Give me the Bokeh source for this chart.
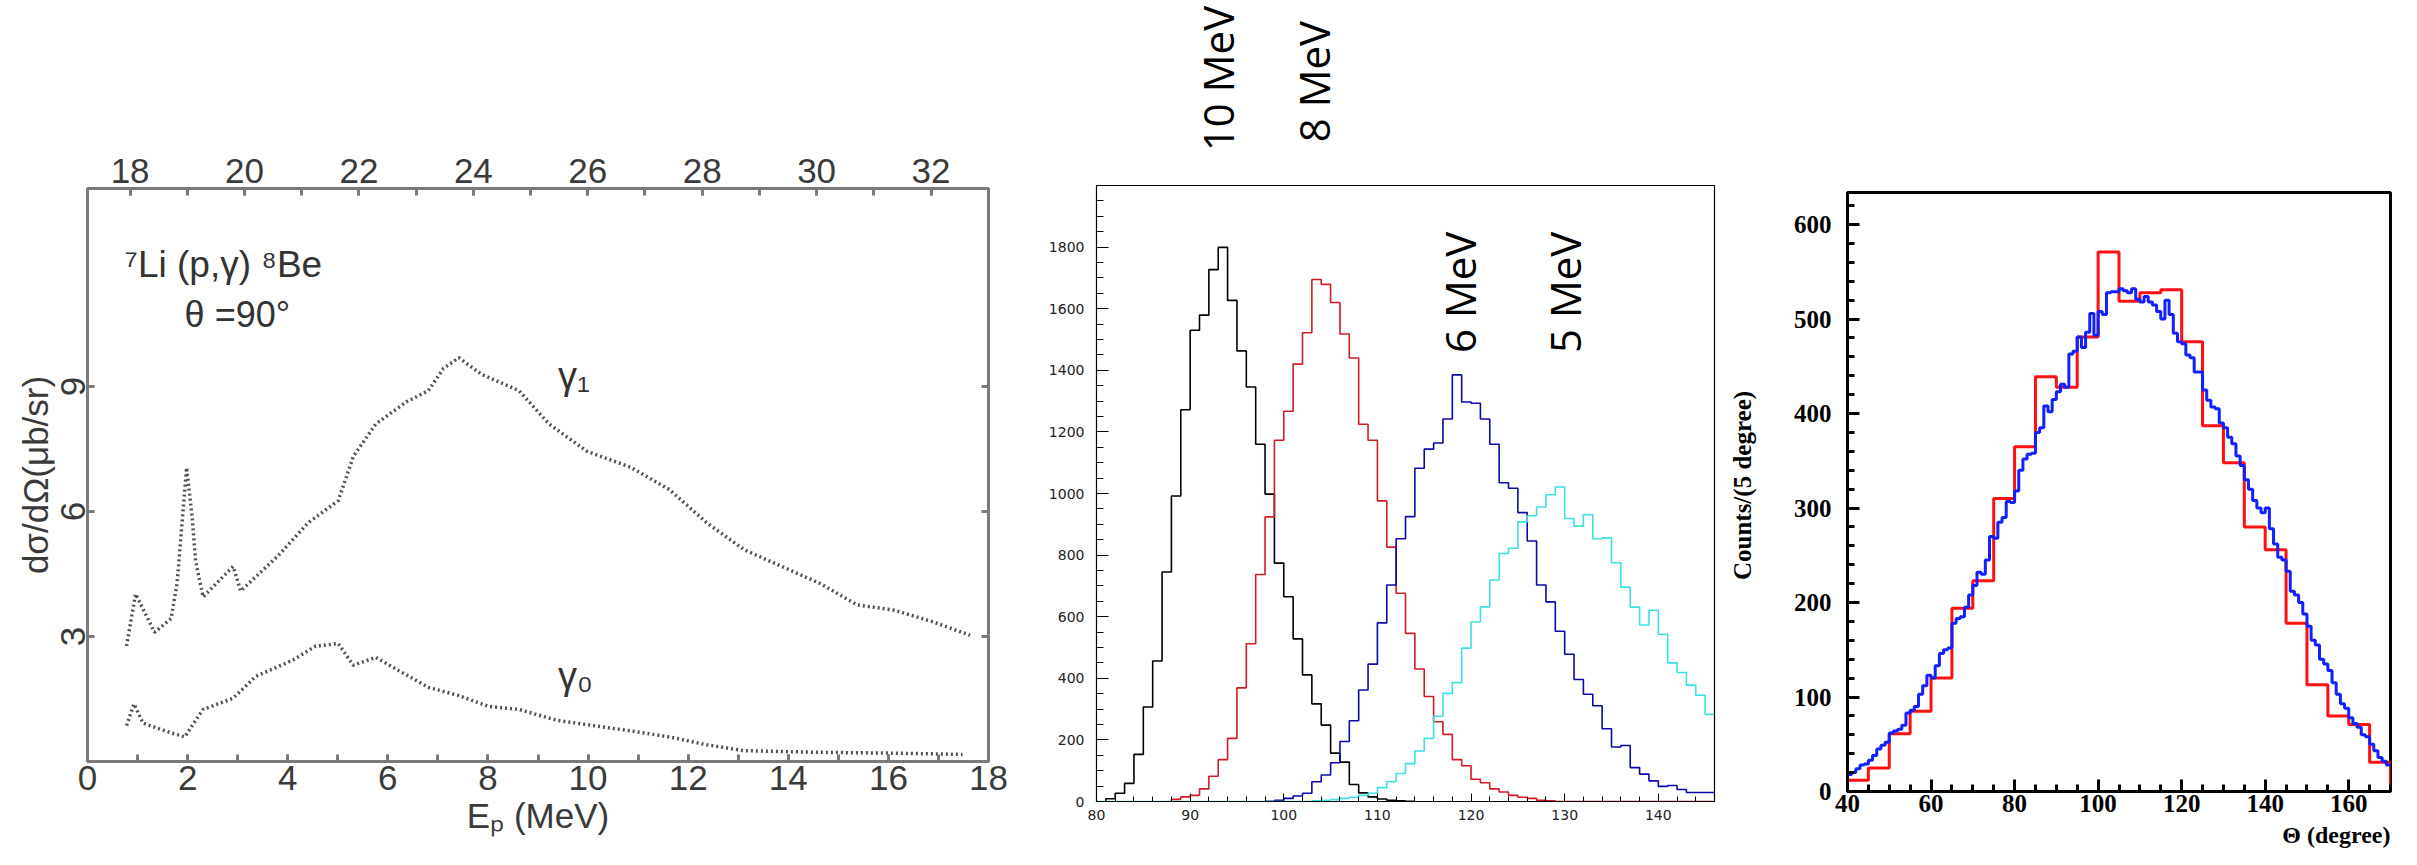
import math
from bokeh.plotting import figure
from bokeh.layouts import row, column
from bokeh.models import Range1d, LinearAxis, Label, FixedTicker
from bokeh.embed import file_html
from bokeh.resources import INLINE

# ---------------- Panel 1: 7Li(p,gamma)8Be ----------------
ep_g1 = [0.78, 0.96, 1.34, 1.67, 1.79, 1.98, 2.09, 2.16, 2.31, 2.91, 3.06, 3.81, 4.41, 5.01, 5.31,
         5.76, 6.37, 6.81, 7.11, 7.42, 7.87, 8.62, 9.22, 9.97, 10.87, 11.62, 12.37, 13.12, 13.87,
         14.62, 15.37, 16.12, 16.87, 17.63]
sig_g1 = [2.77, 4.02, 3.10, 3.43, 4.28, 7.05, 5.87, 4.81, 3.95, 4.68, 4.09, 4.94, 5.73, 6.26, 7.32,
          8.10, 8.63, 8.90, 9.43, 9.69, 9.29, 8.90, 8.10, 7.45, 7.05, 6.53, 5.73, 5.08, 4.68,
          4.28, 3.76, 3.63, 3.36, 3.03]
ep_g0 = [0.78, 0.93, 1.11, 1.56, 1.94, 2.31, 2.91, 3.36, 4.11, 4.56, 5.01, 5.31, 5.76, 6.22, 6.81,
         7.42, 8.02, 8.62, 9.37, 10.12, 10.87, 11.62, 12.37, 13.12, 14.62, 16.12, 17.48]
sig_g0 = [0.86, 1.38, 0.92, 0.73, 0.59, 1.25, 1.52, 2.04, 2.44, 2.77, 2.83, 2.31, 2.50, 2.18, 1.78,
          1.58, 1.32, 1.25, 0.99, 0.86, 0.73, 0.59, 0.40, 0.26, 0.22, 0.20, 0.17]
ep_ticks = [0, 2, 4, 6, 8, 10, 12, 14, 16, 18]
ex_ticks = [18, 20, 22, 24, 26, 28, 30, 32]
sig_ticks = [3, 6, 9]

# ---------------- Panel 2: histograms vs angle ----------------
mid_bin = 1
black_start = 81
black_counts = [9, 27, 59, 153, 307, 456, 745, 992, 1272, 1530, 1579, 1727, 1799, 1627, 1463, 1346,
                1160, 998, 774, 665, 528, 411, 317, 248, 157, 128, 55, 28, 15, 8, 4, 2, 1]
red_start = 88
red_counts = [7, 15, 20, 41, 82, 136, 205, 369, 512, 737, 924, 1173, 1267, 1420, 1522, 1695, 1679,
              1620, 1518, 1440, 1225, 1173, 976, 826, 676, 546, 430, 341, 259, 218, 136, 116, 72,
              61, 41, 31, 20, 14, 10, 4, 2, 0, 0, 0, 0, 0, 0, 0, 0, 0, 0, 0, 0, 0, 0, 0, 0, 0]
blue_start = 98
blue_counts = [1, 4, 10, 18, 27, 64, 86, 126, 195, 262, 362, 446, 580, 703, 853, 925, 1082, 1144,
               1164, 1242, 1385, 1297, 1293, 1242, 1160, 1035, 1017, 938, 846, 703, 648, 553, 478,
               396, 348, 311, 236, 177, 182, 110, 89, 67, 49, 52, 39, 29, 29, 29]
cyan_start = 80
cyan_counts = [0] * 23 + [2, 4, 6, 10, 14, 20, 27, 45, 64, 91, 123, 164, 205, 277, 351, 386, 498,
                          583, 632, 719, 805, 822, 908, 928, 956, 996, 1021, 919, 894, 931, 853,
                          856, 775, 696, 631, 573, 621, 543, 450, 419, 378, 345, 283]
top_labels = ["10 MeV", "8 MeV"]
top_label_x = [92.9, 103.2]
in_labels = ["6 MeV", "5 MeV"]
in_label_x = [118.8, 130.0]
in_label_y = [1653, 1653]

# ---------------- Panel 3: Theta distribution ----------------
red3_start, red3_bin = 40, 5
red3_counts = [12, 25, 61, 85, 120, 194, 223, 310, 365, 439, 428, 481, 571, 519, 528, 531, 476,
               387, 348, 280, 256, 178, 113, 80, 71, 31]
blue3_start, blue3_bin = 40, 1
blue3_counts = [18, 20, 24, 28, 29, 33, 38, 45, 49, 52, 62, 64, 66, 70, 83, 86, 90, 103, 112, 123,
                120, 133, 146, 150, 152, 178, 183, 185, 195, 208, 218, 232, 230, 245, 270, 268,
                285, 290, 307, 306, 318, 340, 352, 357, 358, 380, 385, 408, 402, 415, 423, 431,
                428, 463, 466, 481, 470, 486, 506, 483, 508, 505, 528, 529, 529, 532, 530, 528,
                532, 521, 518, 524, 518, 515, 508, 500, 520, 505, 485, 476, 474, 462, 459, 444,
                444, 425, 414, 407, 405, 390, 385, 375, 368, 355, 345, 330, 320, 308, 300, 295,
                300, 278, 262, 248, 245, 233, 212, 208, 200, 188, 175, 160, 155, 140, 135, 128,
                115, 103, 93, 88, 78, 72, 68, 60, 58, 50, 43, 36, 32, 28]


def hist_xy(start, width, counts, close=True):
    xs, ys = [start], [0]
    x1 = start
    for i, c in enumerate(counts):
        x0 = start + i * width
        x1 = x0 + width
        xs += [x0, x1]
        ys += [c, c]
    if close:
        xs.append(x1)
        ys.append(0)
    return xs, ys


def inward(ax, major, minor, width, color):
    ax.major_tick_in = major
    ax.major_tick_out = 0
    ax.minor_tick_in = minor
    ax.minor_tick_out = 0
    ax.major_tick_line_width = width
    ax.minor_tick_line_width = width
    ax.major_tick_line_color = color
    ax.minor_tick_line_color = color
    ax.axis_line_color = color
    ax.axis_line_width = width


def blank(fig):
    fig.grid.visible = False
    fig.axis.visible = False
    fig.outline_line_color = None


# ===== Figure 1 =====
GREY = "#7a7a7a"
p1 = figure(frame_width=901, frame_height=573, x_range=Range1d(0, 18), y_range=Range1d(0, 13.75),
            output_backend="svg", toolbar_location=None,
            min_border_left=87, min_border_right=44, min_border_top=188, min_border_bottom=88)
p1.grid.visible = False
p1.outline_line_color = GREY
p1.outline_line_width = 3
p1.extra_x_ranges = {"ex": Range1d(17.255, 17.255 + 0.875 * 18)}

font1 = "Liberation Sans"
xa = p1.xaxis[0]
xa.ticker = FixedTicker(ticks=ep_ticks, minor_ticks=list(range(0, 19)))
xa.axis_label = "E\u209a (MeV)"
ya = p1.yaxis[0]
ya.ticker = FixedTicker(ticks=sig_ticks, minor_ticks=[])
ya.axis_label = "d\u03c3/d\u03a9(\u03bcb/sr)"
ya.major_label_orientation = "vertical"
top = LinearAxis(x_range_name="ex",
                 ticker=FixedTicker(ticks=ex_ticks, minor_ticks=list(range(18, 34))))
p1.add_layout(top, "above")
rax = LinearAxis(ticker=FixedTicker(ticks=sig_ticks, minor_ticks=[]))
rax.major_label_overrides = {3: "", 6: "", 9: ""}
p1.add_layout(rax, "right")
for ax in [xa, ya, top, rax]:
    inward(ax, 7, 7, 3, GREY)
    ax.major_label_text_font = font1
    ax.major_label_text_color = "#3a3a3a"
    ax.axis_label_text_font = font1
    ax.axis_label_text_font_style = "normal"
    ax.axis_label_text_color = "#3a3a3a"
    ax.axis_label_text_font_size = "35px"
for ax in [xa, ya, top]:
    ax.major_label_text_font_size = "35px"
xa.major_label_standoff = 4
top.major_label_standoff = 6
ya.major_label_standoff = 2
ya.axis_label_standoff = 4
xa.axis_label_standoff = 3

p1.line(ep_g1, sig_g1, line_color="#505050", line_width=3.5, line_dash="2 3")
p1.line(ep_g0, sig_g0, line_color="#505050", line_width=3.5, line_dash="2 3")
for txt, x, y, fs in [("\u2077Li (p,\u03b3) \u2078Be", 0.74, 11.93, "37px"),
                      ("\u03b8 =90\u00b0", 1.94, 10.73, "36px"),
                      ("\u03b3\u2081", 9.4, 9.26, "38px"),
                      ("\u03b3\u2080", 9.4, 2.06, "38px")]:
    p1.add_layout(Label(x=x, y=y, text=txt, text_font=font1, text_font_size=fs,
                        text_color="#333333", text_baseline="middle", text_align="left"))

# ===== Figure 2 (with a strip above for the outside labels) =====
x2 = Range1d(80, 146)
p2top = figure(frame_width=618, frame_height=180, x_range=x2, y_range=Range1d(0, 180),
               output_backend="svg", toolbar_location=None,
               min_border_left=64, min_border_right=13, min_border_top=0, min_border_bottom=0)
blank(p2top)
for txt, x, yy in zip(top_labels, top_label_x, [102, 99]):
    p2top.add_layout(Label(x=x, y=yy, text=txt, angle=math.pi / 2, text_font="Open Sans",
                           text_font_size="42px", text_color="black",
                           text_align="center", text_baseline="middle"))

p2 = figure(frame_width=618, frame_height=616, x_range=x2, y_range=Range1d(0, 2000),
            output_backend="svg", toolbar_location=None,
            min_border_left=64, min_border_right=13, min_border_top=5, min_border_bottom=48)
p2.grid.visible = False
p2.outline_line_color = "black"
p2.outline_line_width = 1.2
xb = p2.xaxis[0]
xb.ticker = FixedTicker(ticks=list(range(80, 150, 10)), minor_ticks=list(range(80, 147, 2)))
yb = p2.yaxis[0]
yb.ticker = FixedTicker(ticks=list(range(0, 2000, 200)), minor_ticks=list(range(0, 2000, 50)))
for ax in [xb, yb]:
    inward(ax, 8, 5, 1, "black")
    ax.major_label_text_font = "DejaVu Sans"
    ax.major_label_text_font_size = "14px"
    ax.major_label_text_color = "#222222"
yb.major_tick_in = 12
yb.minor_tick_in = 7
yb.major_label_standoff = 12
xb.major_label_standoff = 8

for start, counts, col, close in [(black_start, black_counts, "#000000", True),
                                  (red_start, red_counts, "#d01c24", False),
                                  (blue_start, blue_counts, "#0a0aa8", False),
                                  (cyan_start, cyan_counts, "#3fe0e0", False)]:
    xs, ys = hist_xy(start, mid_bin, counts, close)
    p2.line(xs, ys, line_color=col, line_width=1.6)

for txt, x, y in zip(in_labels, in_label_x, in_label_y):
    p2.add_layout(Label(x=x, y=y, text=txt, angle=math.pi / 2, text_font="Open Sans",
                        text_font_size="42px", text_color="black",
                        text_align="center", text_baseline="middle"))

# ===== narrow strip holding the right panel's y label =====
plab = figure(frame_width=40, frame_height=849, x_range=Range1d(0, 40), y_range=Range1d(0, 849),
              output_backend="svg", toolbar_location=None,
              min_border_left=0, min_border_right=0, min_border_top=0, min_border_bottom=0)
blank(plab)
plab.add_layout(Label(x=15, y=552, text="Counts/(5 degree)", angle=math.pi / 2,
                      text_font="Liberation Serif", text_font_style="bold", text_font_size="25px",
                      text_align="center", text_baseline="middle", text_color="black"))

# ===== Figure 3 =====
x3 = Range1d(40, 170)
p3 = figure(frame_width=543, frame_height=599, x_range=x3, y_range=Range1d(0, 634),
            output_backend="svg", toolbar_location=None,
            min_border_left=80, min_border_right=11, min_border_top=192, min_border_bottom=28)
p3.grid.visible = False
p3.outline_line_color = "black"
p3.outline_line_width = 3
xc = p3.xaxis[0]
xc.ticker = FixedTicker(ticks=list(range(40, 170, 20)), minor_ticks=list(range(40, 171, 5)))
yc = p3.yaxis[0]
yc.ticker = FixedTicker(ticks=list(range(0, 700, 100)), minor_ticks=list(range(0, 634, 20)))
for ax in [xc, yc]:
    inward(ax, 12, 7, 3, "black")
    ax.major_label_text_font = "Liberation Serif"
    ax.major_label_text_font_style = "bold"
    ax.major_label_text_font_size = "25px"
    ax.major_label_text_color = "black"
xc.major_label_standoff = 3
yc.major_label_standoff = 16

xs, ys = hist_xy(red3_start, red3_bin, red3_counts, True)
p3.line(xs, ys, line_color="#ff1010", line_width=3)
xs, ys = hist_xy(blue3_start, blue3_bin, blue3_counts, False)
p3.line(xs, ys, line_color="#1020ff", line_width=3)

p3lab = figure(frame_width=543, frame_height=30, x_range=x3, y_range=Range1d(0, 30),
               output_backend="svg", toolbar_location=None,
               min_border_left=80, min_border_right=11, min_border_top=0, min_border_bottom=0)
blank(p3lab)
p3lab.add_layout(Label(x=170, y=15, text="\u0398 (degree)", text_font="Liberation Serif",
                       text_font_style="bold", text_font_size="24px", text_align="right",
                       text_baseline="middle", text_color="black"))

layout = row(p1, column(p2top, p2, spacing=0), plab, column(p3, p3lab, spacing=0), spacing=0)
open("out.html", "w").write(file_html(layout, INLINE))
